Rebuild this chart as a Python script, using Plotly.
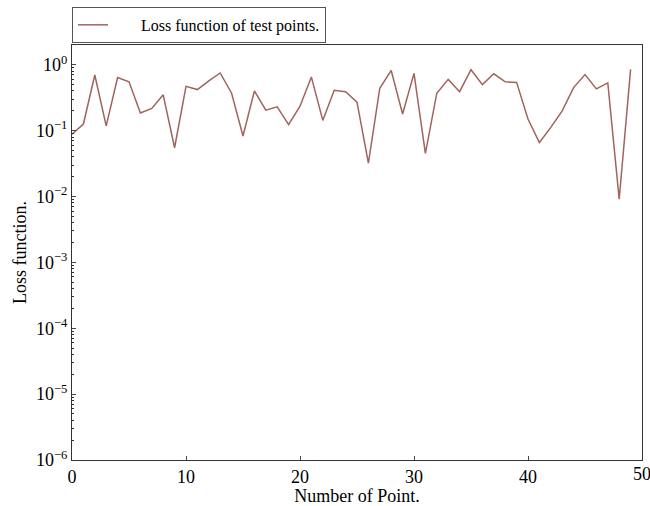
import plotly.graph_objects as go

points = list(range(50))
loss = [0.088, 0.126, 0.70, 0.118, 0.64, 0.55, 0.185, 0.217, 0.35, 0.055,
        0.47, 0.42, 0.57, 0.75, 0.37, 0.083, 0.40, 0.205, 0.23, 0.123,
        0.235, 0.65, 0.143, 0.41, 0.39, 0.27, 0.032, 0.44, 0.82, 0.179,
        0.74, 0.045, 0.37, 0.60, 0.39, 0.84, 0.50, 0.73, 0.55, 0.54,
        0.15, 0.066, 0.112, 0.20, 0.45, 0.71, 0.43, 0.53, 0.0091, 0.85]

ytick_vals = [1e-6, 1e-5, 1e-4, 1e-3, 1e-2, 1e-1, 1e0]
ytick_text = ["10<sup>−6</sup>", "10<sup>−5</sup>", "10<sup>−4</sup>", "10<sup>−3</sup>",
              "10<sup>−2</sup>", "10<sup>−1</sup>", "10<sup>0</sup>"]
xtick_vals = [0, 10, 20, 30, 40, 50]

fig = go.Figure()
fig.add_trace(go.Scatter(x=points, y=loss, mode="lines",
                         line=dict(color="#a0645c", width=1.5),
                         name="\u00a0" * 7 + "Loss function of test points."))

# last x tick label drawn as annotation so it does not push the right margin
fig.add_annotation(x=xtick_vals[-1], xref="x", y=0, yref="paper", yshift=-2,
                   text=str(xtick_vals[-1]), showarrow=False,
                   xanchor="center", yanchor="top",
                   font=dict(size=18))

font = "Liberation Serif, Times New Roman, serif"
fig.update_layout(
    width=650, height=506,
    margin=dict(l=72, r=7, t=44, b=39),
    paper_bgcolor="white", plot_bgcolor="white",
    font=dict(family=font, size=16, color="black"),
    showlegend=True,
    legend=dict(x=0, y=1.005, xanchor="left", yanchor="bottom",
                bordercolor="#555", borderwidth=1, bgcolor="white",
                font=dict(size=16), itemwidth=30, tracegroupgap=0),
    xaxis=dict(range=[0, 50], tickvals=xtick_vals[:-1], ticks="inside", ticklen=4,
               showline=True, linecolor="#333", linewidth=1, mirror=True,
               showgrid=False, zeroline=False,
               title=dict(text="Number of Point.", font=dict(size=18), standoff=0),
               tickfont=dict(size=18)),
    yaxis=dict(type="log", range=[-6, 0.30], tickvals=ytick_vals, ticktext=ytick_text,
               ticks="inside", ticklen=4,
               minor=dict(ticks="inside", ticklen=2, dtick="D1", tickcolor="#333"),
               showline=True, linecolor="#333", linewidth=1, mirror=True,
               showgrid=False, zeroline=False,
               title=dict(text="Loss function.", font=dict(size=18), standoff=4),
               tickfont=dict(size=18)),
)
fig.write_html("out.html", config={"displayModeBar": False},
               post_script="document.body.style.margin='0';")
